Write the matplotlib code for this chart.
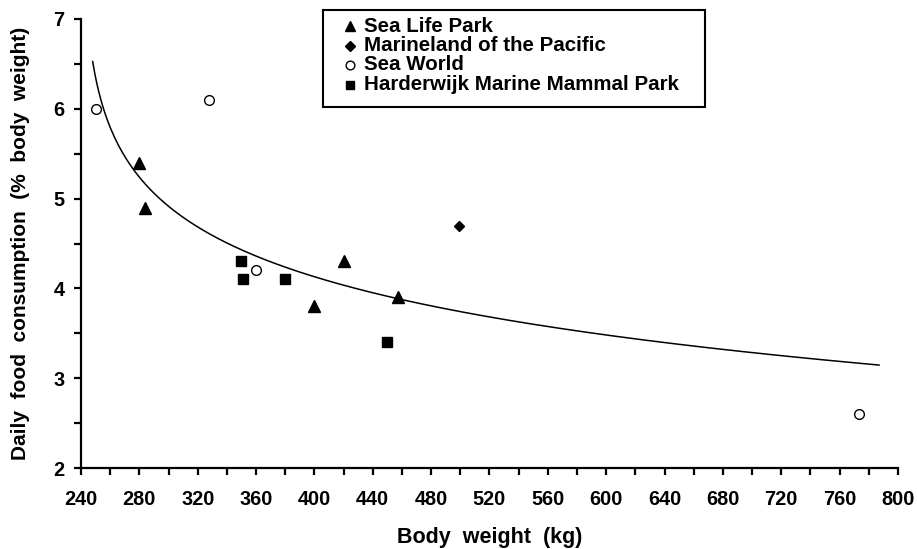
import numpy as np
import matplotlib
matplotlib.use("Agg")
import matplotlib.pyplot as plt
from matplotlib.lines import Line2D
from matplotlib.patches import Rectangle
from matplotlib.ticker import MultipleLocator, FixedLocator

plt.rcParams['font.family'] = ['Liberation Sans', 'DejaVu Sans']
plt.rcParams['font.weight'] = 'bold'

# Body weight (kg) and daily food consumption (% body weight) by facility
sea_life_x = [280, 284, 400, 420, 457]
sea_life_y = [5.4, 4.9, 3.8, 4.3, 3.9]

marineland_x = [499]
marineland_y = [4.7]

sea_world_x = [250, 328, 360, 773]
sea_world_y = [6.0, 6.1, 4.2, 2.6]

harderwijk_x = [350, 351, 380, 450]
harderwijk_y = [4.3, 4.1, 4.1, 3.4]

# Fitted curve: y = a - b * ln(x - c)
fit_a, fit_b, fit_c = 8.19, 0.80, 240.0
fit_range = (248, 787)

x_ticks = [240, 280, 320, 360, 400, 440, 480, 520, 560, 600, 640, 680, 720, 760, 800]
y_ticks = [2, 3, 4, 5, 6, 7]

legend_labels = ['Sea Life Park', 'Marineland of the Pacific', 'Sea World',
                 'Harderwijk Marine Mammal Park']

W, H = 917, 549
fig = plt.figure(figsize=(W / 100, H / 100), dpi=100)
ax = fig.add_axes([81 / W, 1 - 468 / H, 817 / W, 449 / H])

xf = np.linspace(fit_range[0], fit_range[1], 400)
ax.plot(xf, fit_a - fit_b * np.log(xf - fit_c), color='black', lw=1.1)

ax.plot(sea_life_x, sea_life_y, ls='none', marker='^', ms=8.5, color='black')
ax.plot(marineland_x, marineland_y, ls='none', marker='D', ms=5.2, color='black')
ax.plot(sea_world_x, sea_world_y, ls='none', marker='o', ms=7, mfc='white',
        mec='black', mew=1.0)
ax.plot(harderwijk_x, harderwijk_y, ls='none', marker='s', ms=7.2, color='black')

ax.set_xlim(240, 800)
ax.set_ylim(2, 7)
ax.xaxis.set_major_locator(FixedLocator(x_ticks))
ax.xaxis.set_minor_locator(MultipleLocator(20))
ax.yaxis.set_major_locator(FixedLocator(y_ticks))
ax.yaxis.set_minor_locator(MultipleLocator(0.5))

for s in ['top', 'right']:
    ax.spines[s].set_visible(False)
for s in ['left', 'bottom']:
    ax.spines[s].set_linewidth(1.6)

ax.tick_params(axis='both', which='both', direction='out', length=5, width=1.6,
               color='black')
ax.tick_params(axis='x', which='major', labelsize=14.3, pad=10.5)
ax.tick_params(axis='y', which='major', labelsize=14.3, pad=7)

ax.set_xlabel('Body  weight  (kg)', fontsize=15.5, fontweight='bold', labelpad=13)
ax.set_ylabel('Daily  food  consumption  (%  body  weight)', fontsize=15,
              fontweight='bold', labelpad=16.5)

# Legend box drawn in figure pixel coordinates
def fx(px):
    return px / W


def fy(py):
    return 1 - py / H


fig.add_artist(Rectangle((fx(323), fy(107)), fx(705) - fx(323), fy(10) - fy(107),
                         transform=fig.transFigure, fill=True, facecolor='white',
                         edgecolor='black', lw=1.5, zorder=5))
legend_styles = [
    dict(marker='^', ms=7, color='black'),
    dict(marker='D', ms=4.8, color='black'),
    dict(marker='o', ms=6.3, mfc='white', mec='black', mew=1.0),
    dict(marker='s', ms=6.3, color='black'),
]
row_y = [26, 45.5, 65, 84.5]
for lbl, style, ry in zip(legend_labels, legend_styles, row_y):
    fig.add_artist(Line2D([fx(350)], [fy(ry)], ls='none', transform=fig.transFigure,
                          zorder=6, **style))
    fig.text(fx(364), fy(ry), lbl, fontsize=14.8, fontweight='bold',
             va='center', ha='left', zorder=6)

fig.savefig('out.png', dpi=100)
